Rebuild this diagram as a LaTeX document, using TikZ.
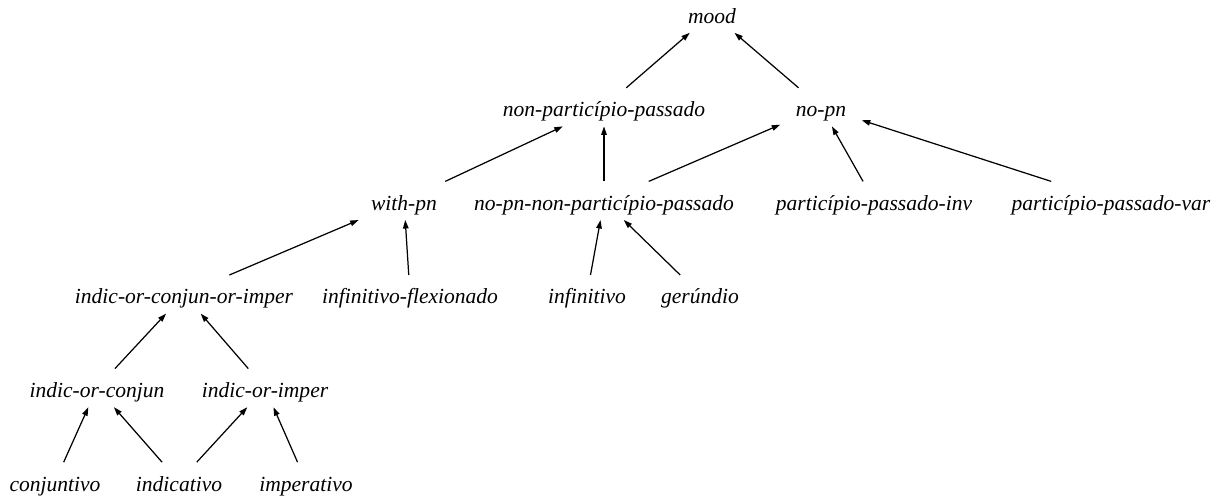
\documentclass[tikz,border=0pt]{standalone}
\usepackage{fontspec}
\setmainfont{Liberation Serif}
\usepackage{tikz}
\usetikzlibrary{arrows.meta}
\tikzstyle{mood}=[inner sep=0pt, inner xsep=10pt, minimum height=24.7pt,
  text height=13pt, text depth=0.5pt, font=\fontsize{14}{16}\selectfont\itshape]
\tikzstyle{isa}=[-{Triangle[length=5.5pt,width=3.6pt]}, line width=0.8pt]

\begin{document}
\begin{tikzpicture}[x=0.65pt, y=-0.65pt]
        \useasboundingbox (0,0) rectangle (1230,498);
        % rows, top to bottom
        \node[mood] (M) at (712, 13.5) {mood};
        \node[mood] (NPP) at (604, 107.1) {non-particípio-passado};
        \node[mood] (NPN) at (821, 107.1) {no-pn};
        \node[mood] (WPN) at (404, 200.7) {with-pn};
        \node[mood] (NPNNPP) at (604, 200.7) {no-pn-non-particípio-passado};
        \node[mood] (PPI) at (874, 200.7) {particípio-passado-inv};
        \node[mood] (PPV) at (1111, 200.7) {particípio-passado-var};
        \node[mood] (ICI) at (184, 294.3) {indic-or-conjun-or-imper};
        \node[mood] (IFL) at (410, 294.3) {infinitivo-flexionado};
        \node[mood] (INF) at (587, 294.3) {infinitivo};
        \node[mood] (GER) at (700, 294.3) {gerúndio};
        \node[mood] (IOC) at (97, 387.9) {indic-or-conjun};
        \node[mood] (IOI) at (265, 387.9) {indic-or-imper};
        \node[mood] (CONJ) at (55, 481.5) {conjuntivo};
        \node[mood] (IND) at (179, 481.5) {indicativo};
        \node[mood] (IMP) at (306, 481.5) {imperativo};
        % edges point from child to parent
        \draw[isa] (NPP) -- (M);
        \draw[isa] (NPN) -- (M);
        \draw[isa] (WPN) -- (NPP);
        \draw[isa] (NPNNPP) -- (NPP);
        \draw[isa] (NPNNPP) -- (NPN);
        \draw[isa] (PPI) -- (NPN);
        \draw[isa] (PPV) -- (NPN);
        \draw[isa] (ICI) -- (WPN);
        \draw[isa] (IFL) -- (WPN);
        \draw[isa] (INF) -- (NPNNPP);
        \draw[isa] (GER) -- (NPNNPP);
        \draw[isa] (IOC) -- (ICI);
        \draw[isa] (IOI) -- (ICI);
        \draw[isa] (CONJ) -- (IOC);
        \draw[isa] (IND) -- (IOC);
        \draw[isa] (IND) -- (IOI);
        \draw[isa] (IMP) -- (IOI);
    \end{tikzpicture}
\end{document}
